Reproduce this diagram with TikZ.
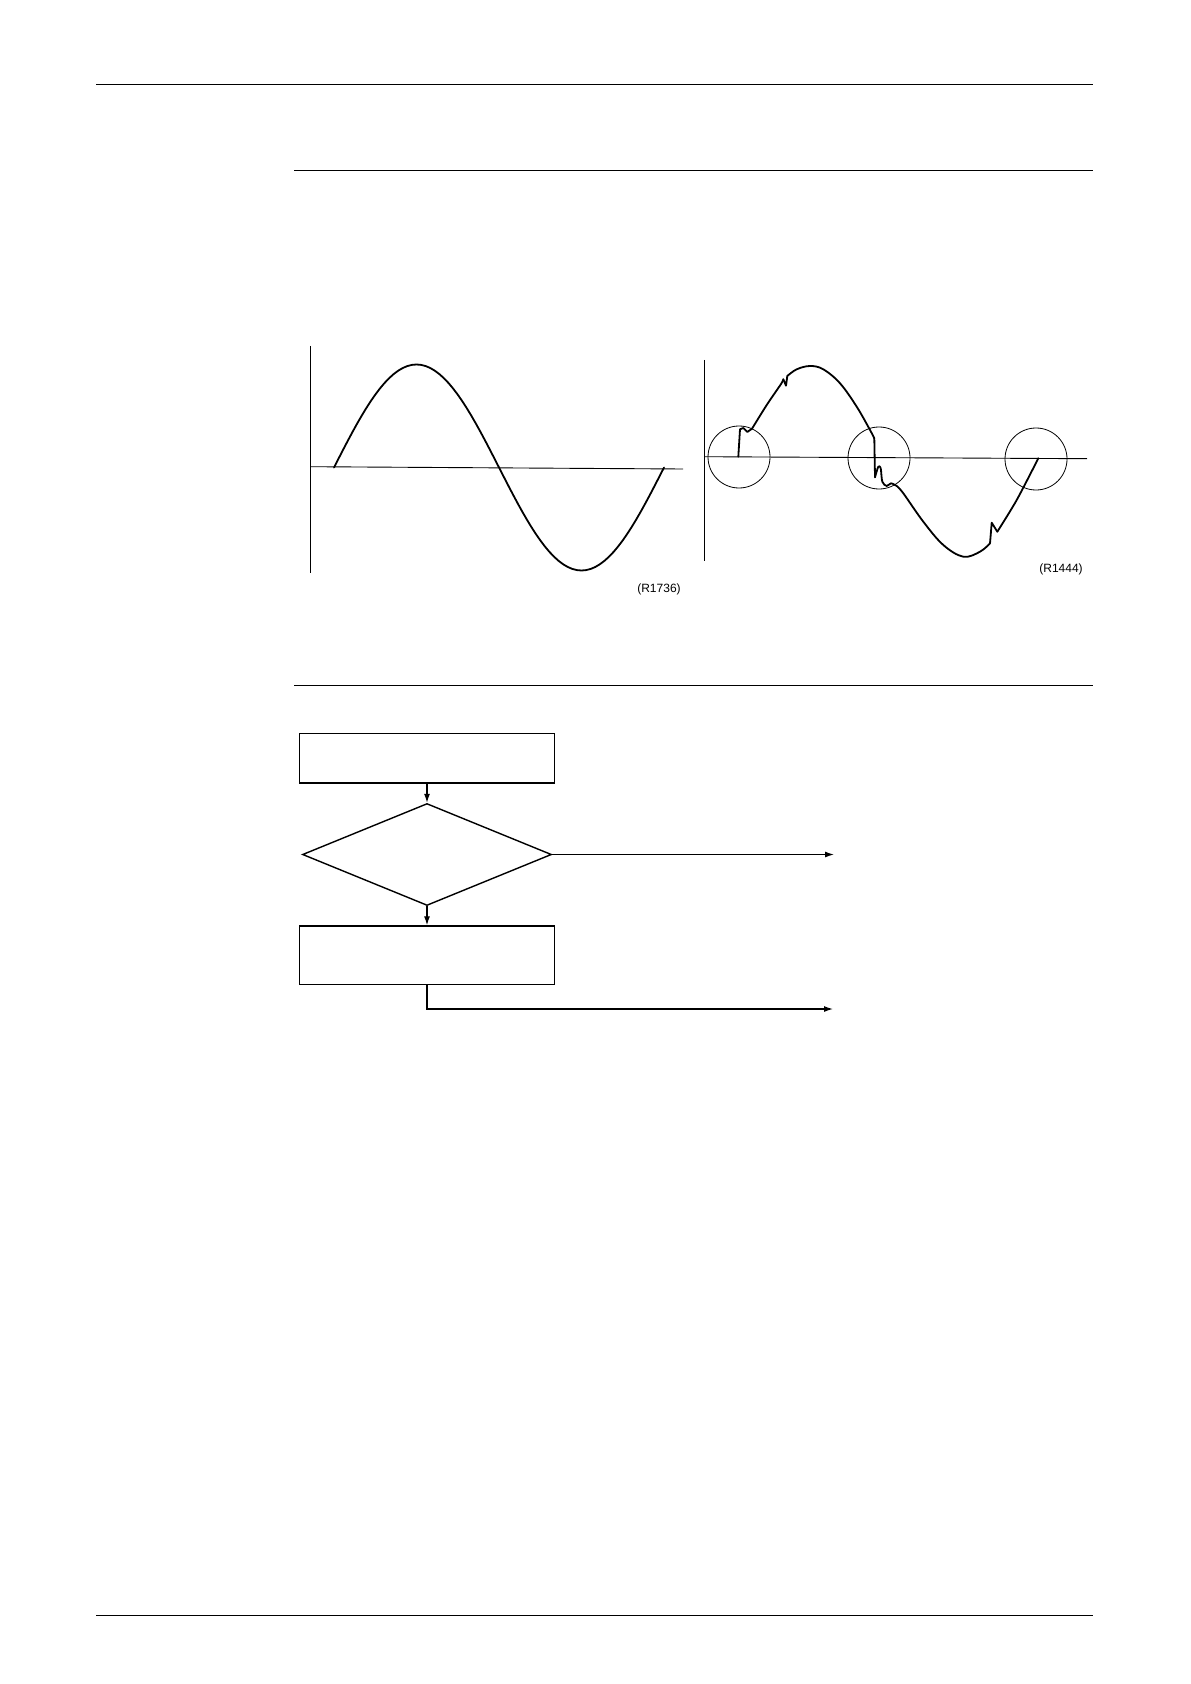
\documentclass[tikz,border=0pt]{standalone}
\usepackage{fontspec}
\setmainfont{Liberation Sans}
\usetikzlibrary{shapes.geometric,arrows.meta}

\tikzset{
    rule/.style={line width=0.6pt},
    axis/.style={line width=0.45pt},
    wave/.style={line width=0.9pt, line join=round, line cap=round},
    mark circle/.style={line width=0.4pt},
    box/.style={draw, line width=0.7pt, rectangle, minimum width=127.7pt, minimum height=24.9pt, inner sep=0pt},
    decision/.style={draw, line width=0.7pt, diamond, minimum width=124.5pt, minimum height=51pt, inner sep=0pt},
    flow/.style={line width=0.6pt, -{Latex[length=4.5pt,width=3pt]}},
    figref/.style={font=\fontsize{6}{7}\selectfont, inner sep=0pt}
}

\begin{document}
\begin{tikzpicture}[x=0.5pt, y=-0.5pt]
            \useasboundingbox (0,0) rectangle (1190,1684);

            \draw[rule] (96,84.3) -- (1093,84.3);
            \draw[rule] (294,170.3) -- (1093,170.3);
            \draw[rule] (294,685.3) -- (1093,685.3);
            \draw[rule] (96,1615.3) -- (1093,1615.3);

            % clean supply
            \draw[axis] (310.7,346) -- (310.7,573);
            \draw[axis] (310.7,466.7) -- (683,469);
            \draw[wave] plot[domain=0:360, samples=73] ({334+0.9167*\x},{467.5-103*sin(\x)});
            \node[figref] (refa) at (659,589) {(R1736)};

            % distorted supply
            \draw[axis] (704,360) -- (704,561);
            \draw[axis] (704,456.7) -- (1087,458.7);
            \draw[mark circle] (739,457) circle[radius=15.5pt];
            \draw[mark circle] (879,458) circle[radius=15.5pt];
            \draw[mark circle] (1036,459) circle[radius=15.5pt];

            \draw[wave] (738.3,456.7) -- (740,429.3) -- (743.3,428) -- (747.3,432) -- (752,428.7);
            \draw[wave] plot[smooth, tension=0.5] coordinates {(752,428.7) (766.7,405) (781,384) (783.3,379.3)};
            \draw[wave] (783.3,379.3) -- (786,385.7) -- (787.3,376);
            \draw[wave] plot[smooth, tension=0.6] coordinates {(787.3,376) (796.7,369.3) (810,366) (823.3,369.3) (840,383.3) (856.7,406.7) (870,430) (874.3,438.3)};
            \draw[wave] (874.3,438.3) -- (875,477.3);
            \draw[wave] plot[smooth, tension=0.5] coordinates {(875,477.3) (878.3,466.7) (880.7,468.3) (882.3,481.7) (886.7,486) (891,483.3) (896.7,486)};
            \draw[wave] plot[smooth, tension=0.6] coordinates {(896.7,486) (903.3,493.3) (923.3,521.7) (943.3,545) (963.3,556.7) (980,551.7) (990,543.3)};
            \draw[wave] (990,543.3) -- (991.7,522.7) -- (997.3,531.7);
            \draw[wave] plot[smooth, tension=0.5] coordinates {(997.3,531.7) (1016.7,500) (1038.3,458.3)};
            \node[figref] (refb) at (1061,569) {(R1444)};

            % flow
            \node[box] (check) at (427,758.2) {};
            \node[decision] (judge) at (427,854.5) {};
            \node[box, minimum height=29.2pt] (reset) at (427,955.2) {};
            \coordinate (yesend) at (834,854.5);
            \coordinate (noend) at (833,1009);

            \draw[flow] (check) -- (judge);
            \draw[flow] (judge) -- (reset);
            \draw[flow] (judge.east) -- (yesend);
            \draw[flow] (reset.south) |- (noend);
        \end{tikzpicture}
\end{document}
